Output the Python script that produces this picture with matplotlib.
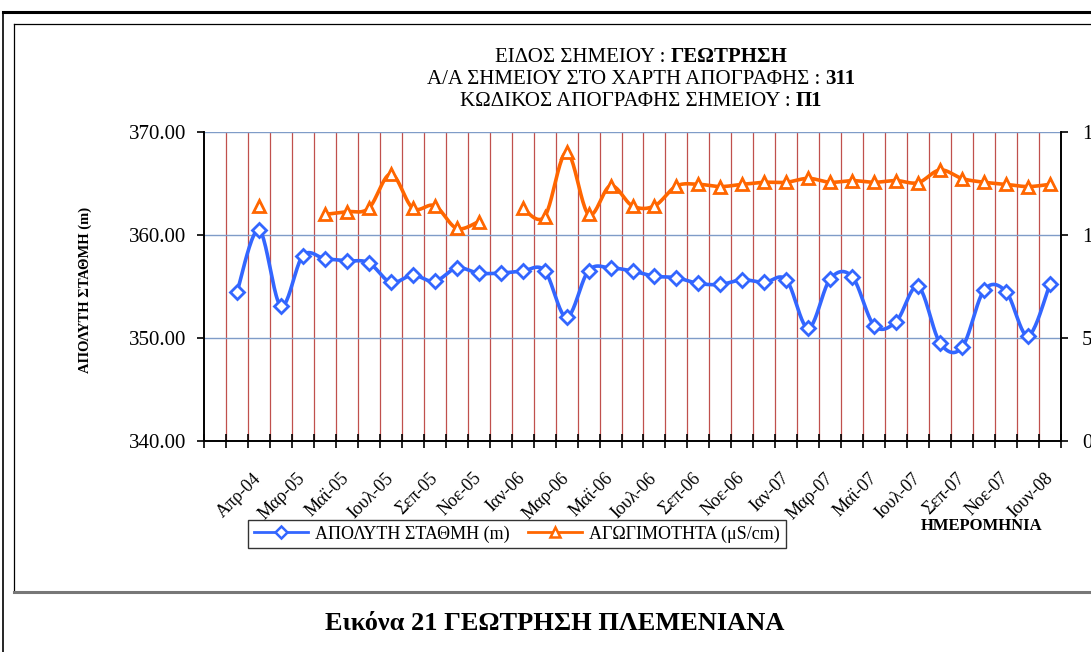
import numpy as np
import matplotlib.pyplot as plt
from matplotlib.lines import Line2D

plt.rcParams['font.family'] = ['Liberation Serif', 'DejaVu Serif']

# sampling dates (category axis), only every second one is labelled
tick_names = ['Απρ-04', 'Μαρ-05', 'Μαϊ-05', 'Ιουλ-05', 'Σεπ-05', 'Νοε-05', 'Ιαν-06',
              'Μαρ-06', 'Μαϊ-06', 'Ιουλ-06', 'Σεπ-06', 'Νοε-06', 'Ιαν-07', 'Μαρ-07',
              'Μαϊ-07', 'Ιουλ-07', 'Σεπ-07', 'Νοε-07', 'Ιουν-08']
labels = ['', '']
for name in tick_names:
    labels += [name, '']
labels = labels[:-1]

# absolute water level (m), left axis
level = [np.nan, 354.45, 360.5, 353.1, 358.0, 357.7, 357.5, 357.3, 355.4, 356.1,
         355.5, 356.8, 356.3, 356.3, 356.5, 356.55, 352.0, 356.55, 356.8, 356.5,
         356.0, 355.85, 355.3, 355.2, 355.65, 355.4, 355.65, 350.95, 355.75, 355.95,
         351.2, 351.6, 355.0, 349.5, 349.1, 354.65, 354.5, 350.2, 355.25]

# conductivity (uS/cm), right axis
cond = [np.nan, np.nan, 1140, np.nan, np.nan, 1100, 1113, 1130, 1296, 1130,
        1142, 1032, 1065, np.nan, 1130, 1089, 1402, 1100, 1239, 1141,
        1141, 1238, 1246, 1235, 1246, 1256, 1256, 1275, 1256, 1264,
        1256, 1264, 1254, 1316, 1274, 1256, 1246, 1235, 1246]

BLUE = '#3366ff'
ORANGE = '#ff6600'


def smooth(x, y, sx, sy, n=24):
    # excel like smoothed line (catmull-rom bezier), done in screen-ish units
    x = np.asarray(x, float)
    y = np.asarray(y, float)
    ok = ~np.isnan(y)
    out_x, out_y = [], []
    i = 0
    while i < len(y):
        if not ok[i]:
            i += 1
            continue
        j = i
        while j < len(y) and ok[j]:
            j += 1
        px = x[i:j] * sx
        py = y[i:j] * sy
        if len(px) > 1:
            P = np.column_stack([px, py])
            P = np.vstack([P[0], P, P[-1]])
            t = np.linspace(0, 1, n)[:, None]
            seg = []
            for k in range(1, len(P) - 2):
                p0, p1, p2, p3 = P[k - 1], P[k], P[k + 1], P[k + 2]
                c1 = p1 + (p2 - p0) / 6
                c2 = p2 - (p3 - p1) / 6
                b = ((1 - t) ** 3) * p1 + 3 * ((1 - t) ** 2) * t * c1 + 3 * (1 - t) * t ** 2 * c2 + t ** 3 * p2
                seg.append(b)
            seg = np.vstack(seg)
            out_x += list(seg[:, 0] / sx) + [np.nan]
            out_y += list(seg[:, 1] / sy) + [np.nan]
        i = j
    return np.array(out_x), np.array(out_y)


W, H = 1091, 652
fig = plt.figure(figsize=(W / 100, H / 100), dpi=100)
ax = fig.add_axes([204 / W, 1 - 441 / H, 857 / W, 309 / H])
ax2 = ax.twinx()

n = len(labels)
xs = np.arange(n)
ax.set_xlim(-0.5, n - 0.5)
ax.set_ylim(340, 370)
ax2.set_ylim(0, 1500)

# grid: red verticals on category borders, blue horizontals
for b in np.arange(n + 1) - 0.5:
    if 0 < b < n - 0.5:
        ax.axvline(b, color='#c0504d', lw=0.9, zorder=0)
for v in [350, 360, 370]:
    ax.axhline(v, color='#7f9cc8', lw=1.0, zorder=0)

lx, ly = smooth(xs, level, 21.97, 10.3)
ax.plot(lx, ly, color=BLUE, lw=2.6, zorder=3)
ax.plot(xs, level, ls='none', marker='D', ms=7, mfc='white', mec=BLUE, mew=2, zorder=4)

cx, cy = smooth(xs, cond, 21.97, 309 / 1500)
ax2.plot(cx, cy, color=ORANGE, lw=2.6, zorder=3)
ax2.plot(xs, cond, ls='none', marker='^', ms=8.5, mfc='white', mec=ORANGE, mew=2, zorder=4)

ax.set_yticks([340, 350, 360, 370])
ax.set_yticklabels(['%.2f' % v for v in [340, 350, 360, 370]], fontsize=15)
ax2.set_yticks([0, 500, 1000, 1500])
ax2.set_yticklabels(['0', '500', '1000', '1500'], fontsize=15)

ax.set_xticks(np.arange(n + 1) - 0.5)
ax.set_xticklabels([])
ax.set_xticks(xs, labels, minor=True)
for t in ax.get_xticklabels(minor=True):
    t.set_rotation(45)
    t.set_ha('right')
    t.set_va('center')
    t.set_rotation_mode('anchor')
    t.set_fontsize(13)
ax.tick_params(axis='x', which='major', direction='inout', length=10, width=1.2)
ax.tick_params(axis='x', which='minor', length=0, pad=25)
ax.tick_params(axis='y', direction='out', length=5, width=1.2, pad=8)
ax2.tick_params(axis='y', direction='out', length=5, width=1.2, pad=10)

for a in (ax, ax2):
    a.spines['top'].set_visible(False)
    for s in ('left', 'right', 'bottom'):
        a.spines[s].set_linewidth(1.2)
ax.patch.set_visible(False)

fig.text(85 / W, 1 - 290 / H, 'ΑΠΟΛΥΤΗ ΣΤΑΘΜΗ (m)', rotation=90, fontsize=10.5,
         fontweight='bold', ha='center', va='center')
fig.text(982 / W, 1 - 526 / H, 'ΗΜΕΡΟΜΗΝΙΑ', fontsize=12, fontweight='bold',
         ha='center', va='center')

handles = [Line2D([], [], color=BLUE, lw=2, marker='D', ms=6, mfc='white', mec=BLUE, mew=1.8),
           Line2D([], [], color=ORANGE, lw=2, marker='^', ms=7.5, mfc='white', mec=ORANGE, mew=1.8)]
leg = fig.legend(handles, ['ΑΠΟΛΥΤΗ ΣΤΑΘΜΗ (m)', 'ΑΓΩΓΙΜΟΤΗΤΑ (μS/cm)'], ncol=2,
                 loc='center', bbox_to_anchor=(517 / W, 1 - 534 / H), fontsize=13,
                 frameon=True, fancybox=False, edgecolor='black', handlelength=3,
                 borderpad=0.3, columnspacing=1.0, handletextpad=0.4)
leg.get_frame().set_linewidth(1.0)

# title lines, normal part + bold part, centred together
renderer = fig.canvas.get_renderer()
title_rows = [('ΕΙΔΟΣ ΣΗΜΕΙΟΥ : ', 'ΓΕΩΤΡΗΣΗ', 57),
              ('Α/Α ΣΗΜΕΙΟΥ ΣΤΟ ΧΑΡΤΗ ΑΠΟΓΡΑΦΗΣ : ', '311', 79),
              ('ΚΩΔΙΚΟΣ ΑΠΟΓΡΑΦΗΣ ΣΗΜΕΙΟΥ : ', 'Π1', 101)]
for normal, bold, yy in title_rows:
    t1 = fig.text(0, 1 - yy / H, normal, fontsize=15, va='center')
    t2 = fig.text(0, 1 - yy / H, bold, fontsize=15, fontweight='bold', va='center')
    w1 = t1.get_window_extent(renderer).width
    w2 = t2.get_window_extent(renderer).width
    x0 = 641 - (w1 + w2) / 2
    t1.set_x(x0 / W)
    t2.set_x((x0 + w1) / W)

fig.text(555 / W, 1 - 623 / H, 'Εικόνα 21 ΓΕΩΤΡΗΣΗ ΠΛΕΜΕΝΙΑΝΑ', fontsize=19,
         fontweight='bold', ha='center', va='center')

# page / chart-area frames
fig.add_artist(Line2D([3 / W, 1], [1 - 12 / H, 1 - 12 / H], color='black', lw=2.2))
fig.add_artist(Line2D([3 / W, 3 / W], [0, 1 - 12 / H], color='black', lw=1.2))
fig.add_artist(Line2D([14 / W, 1], [1 - 24 / H, 1 - 24 / H], color='black', lw=0.9))
fig.add_artist(Line2D([14 / W, 14 / W], [1 - 592 / H, 1 - 24 / H], color='black', lw=0.9))
fig.add_artist(Line2D([14 / W, 1], [1 - 592 / H, 1 - 592 / H], color='#777777', lw=2.2))

fig.savefig('out.png', dpi=100)
